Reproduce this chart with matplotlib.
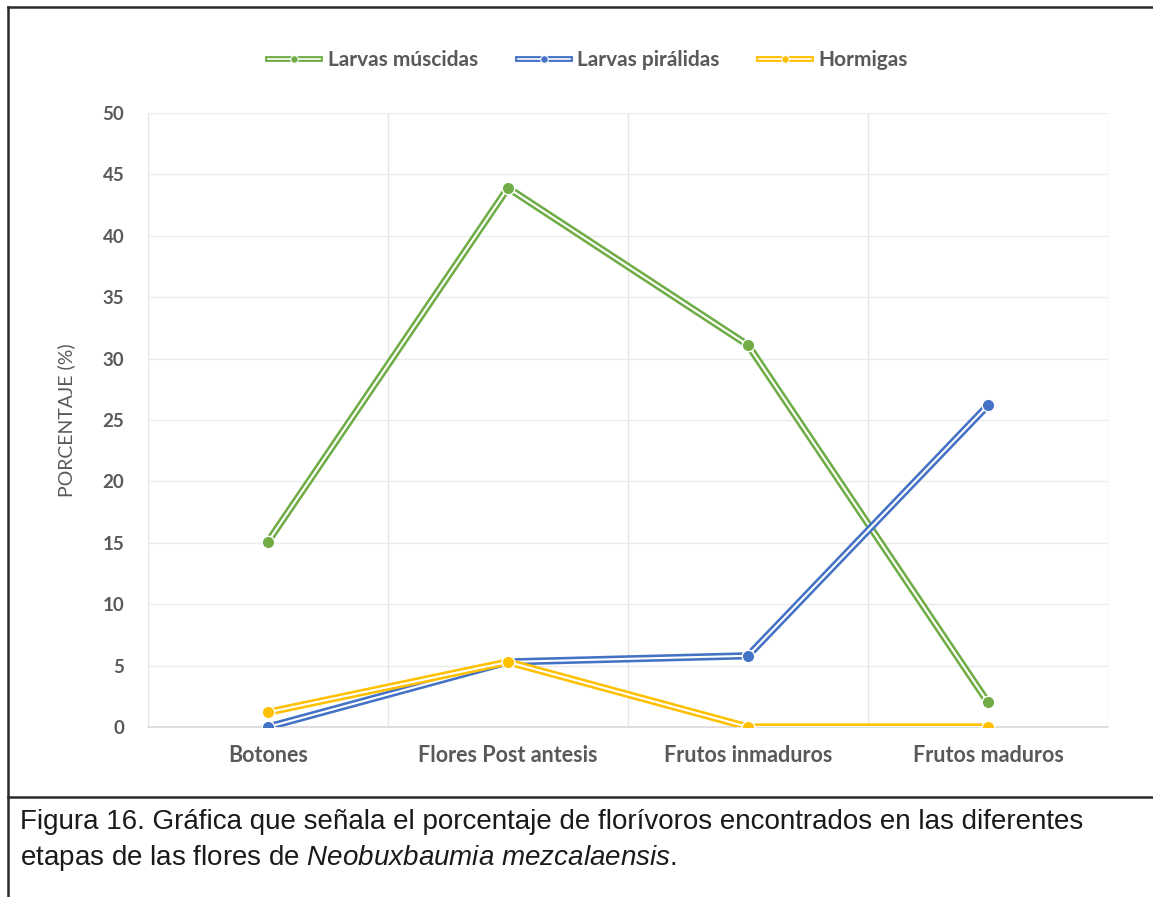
import matplotlib
matplotlib.use("Agg")
import matplotlib.pyplot as plt
import matplotlib.patheffects as pe
from matplotlib.lines import Line2D

plt.rcParams["mathtext.fontset"] = "custom"
plt.rcParams["mathtext.rm"] = "Liberation Sans"
plt.rcParams["mathtext.it"] = "Liberation Sans:italic"

categories = ["Botones", "Flores Post antesis", "Frutos inmaduros", "Frutos maduros"]
larvas_muscidas = [15.1, 43.9, 31.1, 2.0]
larvas_piralidas = [0.0, 5.3, 5.8, 26.2]
hormigas = [1.2, 5.3, 0.0, 0.0]
series_names = ["Larvas múscidas", "Larvas pirálidas", "Hormigas"]
series_colors = ["#70AD47", "#4472C4", "#FFC000"]
y_ticks = list(range(0, 51, 5))

W, H = 1153, 897
fig = plt.figure(figsize=(W / 100, H / 100), dpi=100)
fig.patch.set_facecolor("white")

ax = fig.add_axes([148 / W, 1 - 727 / H, (1108 - 148) / W, (727 - 113) / H])
x = list(range(len(categories)))


def double_line_effect(width):
    # coloured stroke with a thin white core (compound line)
    return [pe.Normal(), pe.Stroke(linewidth=width, foreground="white")]


handles = []
for vals, color, name in zip([larvas_muscidas, larvas_piralidas, hormigas],
                             series_colors, series_names):
    ax.plot(x, vals, color=color, lw=5.2, solid_joinstyle="round",
            path_effects=double_line_effect(1.5), zorder=3)
    ax.plot(x, vals, linestyle="none", marker="o", markersize=9,
            markerfacecolor=color, markeredgecolor="white",
            markeredgewidth=1.0, zorder=4)
    # legend key: double line with a small marker in the middle
    key_line = Line2D([], [], color=color, lw=4.2,
                      path_effects=double_line_effect(1.2))
    key_mark = Line2D([], [], linestyle="none", marker="o", markersize=5.5,
                      markerfacecolor=color, markeredgecolor="white",
                      markeredgewidth=0.8)
    handles.append((key_line, key_mark))

ax.set_xlim(-0.5, len(categories) - 0.5)
ax.set_ylim(0, 50)
ax.set_yticks(y_ticks)
ax.set_xticks(x)
ax.set_xticklabels(categories)

# category boundaries as vertical gridlines, values as horizontal gridlines
for xb in [i - 0.5 for i in range(len(categories) + 1)]:
    ax.axvline(xb, color="#E6E6E6", lw=1.0, zorder=0)
ax.yaxis.grid(True, color="#EBEBEB", lw=1.0)
ax.set_axisbelow(True)
for s in ["top", "right", "left"]:
    ax.spines[s].set_visible(False)
ax.spines["bottom"].set_color("#D9D9D9")
ax.spines["bottom"].set_linewidth(1.2)
ax.tick_params(axis="both", length=0, colors="#595959")
ax.tick_params(axis="y", pad=17)
ax.tick_params(axis="x", pad=13)
for lab in ax.get_yticklabels():
    lab.set_fontfamily("Lato")
    lab.set_fontweight("bold")
    lab.set_fontsize(13.5)
    lab.set_color("#595959")
for lab in ax.get_xticklabels():
    lab.set_fontfamily("Lato")
    lab.set_fontweight("bold")
    lab.set_fontsize(15.5)
    lab.set_color("#595959")

ax.set_ylabel("PORCENTAJE (%)", fontsize=14, color="#595959", family="Lato")
ax.yaxis.set_label_coords((75 - 148) / 960, 0.5)

leg = fig.legend(handles, series_names, loc="center",
                 bbox_to_anchor=(588 / W, 1 - 60 / H), ncol=3, frameon=False,
                 handlelength=2.5, handletextpad=0.35, columnspacing=1.9,
                 prop={"family": "Lato", "weight": "bold", "size": 15})
for t in leg.get_texts():
    t.set_color("#595959")

# outer frame and caption separator
def fig_line(x0, y0, x1, y1):
    fig.add_artist(Line2D([x0 / W, x1 / W], [1 - y0 / H, 1 - y1 / H],
                          transform=fig.transFigure, color="#2B2B2B", lw=1.8))

fig_line(8, 7, W, 7)
fig_line(8, 7, 8, H)
fig_line(8, 797, W, 797)

fig.text(20 / W, 1 - 822 / H,
         "Figura 16. Gráfica que señala el porcentaje de florívoros encontrados en las diferentes",
         family="Liberation Sans", fontsize=20, color="#1A1A1A", va="center", ha="left")
fig.text(20 / W, 1 - 858 / H,
         "etapas de las flores de $\\mathit{Neobuxbaumia\\ mezcalaensis}$.",
         family="Liberation Sans", fontsize=20, color="#1A1A1A", va="center", ha="left")

fig.savefig("out.png", dpi=100, facecolor="white")
